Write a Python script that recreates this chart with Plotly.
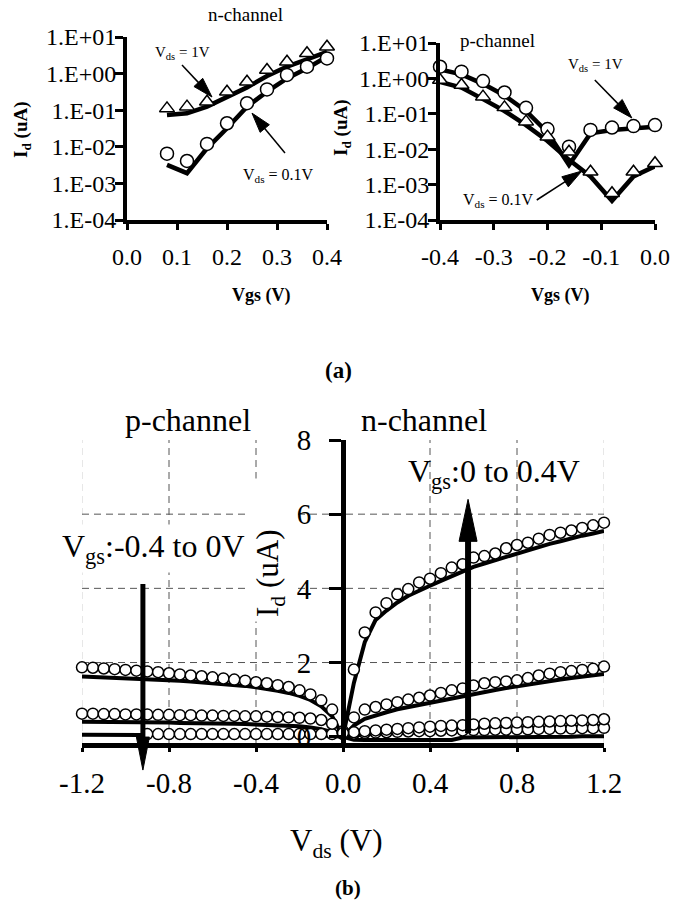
import numpy as np
import plotly.graph_objects as go

W, H = 685, 903
FONT = "Liberation Serif"

# ---------------- (a) left: n-channel transfer curves ----------------
vgs_n = [0.08, 0.12, 0.16, 0.20, 0.24, 0.28, 0.32, 0.36, 0.40]
n_vds1_meas = [0.112, 0.125, 0.171, 0.32, 0.60, 1.25, 2.1, 3.6, 5.4]
n_vds1_sim = [0.074, 0.082, 0.125, 0.234, 0.42, 0.86, 1.55, 2.46, 3.9]
n_vds01_meas = [0.0065, 0.0041, 0.012, 0.044, 0.155, 0.37, 0.92, 1.55, 2.6]
n_vds01_sim = [0.0032, 0.0019, 0.0091, 0.032, 0.125, 0.32, 0.74, 1.4, 2.9]

# ---------------- (a) right: p-channel transfer curves ----------------
vgs_p = [-0.40, -0.36, -0.32, -0.28, -0.24, -0.20, -0.16, -0.12, -0.08, -0.04, 0.00]
p_vds1_meas = [2.14, 1.55, 0.84, 0.40, 0.148, 0.037, 0.0118, 0.035, 0.041, 0.045, 0.048]
p_vds1_sim = [1.8, 1.3, 0.7, 0.33, 0.12, 0.03, 0.0036, 0.028, 0.035, 0.04, 0.043]
p_vds01_meas = [0.90, 0.65, 0.305, 0.152, 0.060, 0.0226, 0.0085, 0.0023, 0.00057, 0.0023, 0.0040]
p_vds01_sim = [0.80, 0.55, 0.26, 0.12, 0.048, 0.017, 0.005, 0.0017, 0.00035, 0.0017, 0.0033]

log_ticks = [1e-4, 1e-3, 1e-2, 1e-1, 1e0, 1e1]
log_tick_text = ["1.E-04", "1.E-03", "1.E-02", "1.E-01", "1.E+00", "1.E+01"]
n_vgs_ticks = [0.0, 0.1, 0.2, 0.3, 0.4]
n_vgs_text = ["0.0", "0.1", "0.2", "0.3", "0.4"]
p_vgs_ticks = [-0.4, -0.3, -0.2, -0.1, 0.0]
p_vgs_text = ["-0.4", "-0.3", "-0.2", "-0.1", "0.0"]

# ---------------- (b) output curves ----------------
vds_n = [0.0, 0.05, 0.10, 0.15, 0.20, 0.25, 0.30, 0.35, 0.40, 0.45, 0.50, 0.55, 0.60,
         0.65, 0.70, 0.75, 0.80, 0.85, 0.90, 0.95, 1.00, 1.05, 1.10, 1.15, 1.20]
n_vg04_meas = [0.10, 1.81, 2.81, 3.35, 3.60, 3.84, 3.98, 4.16, 4.26, 4.41, 4.56, 4.65, 4.83,
               4.87, 4.94, 5.08, 5.17, 5.23, 5.34, 5.44, 5.50, 5.56, 5.63, 5.70, 5.77]
n_vg04_sim = [0.0, 1.45, 2.55, 3.15, 3.40, 3.62, 3.80, 3.95, 4.07, 4.20, 4.33, 4.45, 4.58,
              4.67, 4.76, 4.86, 4.95, 5.03, 5.12, 5.20, 5.27, 5.35, 5.42, 5.48, 5.55]
n_vg03_meas = [0.10, 0.52, 0.73, 0.80, 0.87, 0.93, 1.00, 1.05, 1.11, 1.18, 1.25, 1.30, 1.38,
               1.44, 1.47, 1.49, 1.52, 1.58, 1.65, 1.70, 1.74, 1.77, 1.80, 1.83, 1.89]
n_vg03_sim = [0.0, 0.30, 0.48, 0.58, 0.66, 0.74, 0.80, 0.86, 0.92, 0.98, 1.04, 1.10, 1.16,
              1.21, 1.26, 1.31, 1.36, 1.41, 1.46, 1.50, 1.54, 1.58, 1.62, 1.65, 1.69]
n_vg02_meas = [0.10, 0.12, 0.15, 0.17, 0.19, 0.21, 0.23, 0.25, 0.27, 0.29, 0.30, 0.31, 0.33,
               0.35, 0.36, 0.37, 0.38, 0.39, 0.40, 0.41, 0.42, 0.43, 0.44, 0.45, 0.47]
n_vg02_sim = [0.0, 0.04, 0.06, 0.08, 0.09, 0.10, 0.11, 0.12, 0.13, 0.14, 0.15, 0.16, 0.17,
              0.18, 0.19, 0.20, 0.21, 0.22, 0.23, 0.24, 0.25, 0.26, 0.27, 0.28, 0.29]
n_vg01_meas = [0.10, 0.08, 0.10, 0.11, 0.12, 0.13, 0.14, 0.15, 0.15, 0.16, 0.17, 0.17, 0.18,
               0.18, 0.19, 0.19, 0.20, 0.20, 0.21, 0.21, 0.22, 0.22, 0.23, 0.23, 0.24]
n_vg01_sim = [0.0, -0.08, -0.09, -0.09, -0.09, -0.09, -0.09, -0.09, -0.09, -0.09, -0.09, -0.02, -0.02,
              -0.02, -0.02, -0.01, -0.01, -0.01, 0.0, 0.0, 0.0, 0.0, 0.01, 0.01, 0.01]

vds_p = [-1.20, -1.15, -1.10, -1.05, -1.00, -0.95, -0.90, -0.85, -0.80, -0.75, -0.70, -0.65, -0.60,
         -0.55, -0.50, -0.45, -0.40, -0.35, -0.30, -0.25, -0.20, -0.15, -0.10, -0.05, 0.0]
p_vg04_meas = [1.87, 1.86, 1.84, 1.82, 1.80, 1.78, 1.76, 1.74, 1.71, 1.68, 1.65, 1.63, 1.60,
               1.57, 1.54, 1.51, 1.47, 1.44, 1.39, 1.34, 1.25, 1.14, 0.98, 0.73, 0.15]
p_vg04_sim = [1.62, 1.61, 1.60, 1.59, 1.58, 1.57, 1.56, 1.55, 1.53, 1.51, 1.49, 1.47, 1.45,
              1.42, 1.40, 1.37, 1.33, 1.29, 1.24, 1.18, 1.10, 0.99, 0.82, 0.55, 0.0]
p_vg03_meas = [0.62, 0.62, 0.61, 0.61, 0.60, 0.60, 0.60, 0.59, 0.59, 0.58, 0.58, 0.57, 0.57,
               0.56, 0.56, 0.55, 0.55, 0.54, 0.53, 0.52, 0.51, 0.49, 0.45, 0.35, 0.10]
p_vg03_sim = [0.40, 0.40, 0.40, 0.39, 0.39, 0.39, 0.38, 0.38, 0.38, 0.37, 0.37, 0.36, 0.36,
              0.35, 0.35, 0.34, 0.33, 0.32, 0.31, 0.30, 0.28, 0.25, 0.20, 0.12, 0.0]
vds_p_low = [-0.90, -0.85, -0.80, -0.75, -0.70, -0.65, -0.60, -0.55, -0.50, -0.45,
             -0.40, -0.35, -0.30, -0.25, -0.20, -0.15, -0.10, -0.05, 0.0]
p_vg02_meas = [0.07, 0.07, 0.07, 0.07, 0.07, 0.07, 0.07, 0.07, 0.07, 0.07,
               0.07, 0.07, 0.07, 0.07, 0.07, 0.07, 0.07, 0.07, 0.07]
p_vg02_sim = [0.05, 0.05, 0.05, 0.05, 0.05, 0.05, 0.05, 0.05, 0.05, 0.05, 0.05, 0.05, 0.05,
              0.05, 0.05, 0.05, 0.05, 0.05, 0.05, 0.05, 0.04, 0.04, 0.03, 0.02, 0.0]

vds_ticks = [-1.2, -0.8, -0.4, 0.0, 0.4, 0.8, 1.2]
vds_text = ["-1.2", "-0.8", "-0.4", "0.0", "0.4", "0.8", "1.2"]
id_ticks = [0, 2, 4, 6, 8]
id_text = ["0", "2", "4", "6", "8"]
grid_x = [-0.8, -0.4, 0.4, 0.8]
edge_x = [-1.2, 1.2]
grid_y = [2, 4, 6]

# ---------------- geometry ----------------
def px2dom(a, b, total, flip=False):
    if flip:
        return [1 - b / total, 1 - a / total]
    return [a / total, b / total]

dom = {
    "x1": px2dom(127, 327, W), "y1": px2dom(37, 220, H, True),
    "x2": px2dom(440, 655, W), "y2": px2dom(43, 220, H, True),
    "x3": px2dom(82, 604, W), "y3": px2dom(440, 743, H, True),
}
rng = {
    "x1": [0.0, 0.4], "y1": [-4, 1],
    "x2": [-0.4, 0.0], "y2": [-4, 1],
    "x3": [-1.2, 1.2], "y3": [-0.17, 8.0],
}

def to_paper(k, v, log=False):
    vv = np.log10(v) if log else v
    d, r = dom[k], rng[k]
    return d[0] + (vv - r[0]) / (r[1] - r[0]) * (d[1] - d[0])

fig = go.Figure()

LINE = dict(color="black", width=4.5)
def mk_circle(size):
    return dict(symbol="circle", size=size, color="white", line=dict(color="black", width=1.5))
def mk_tri(size):
    return dict(symbol="triangle-up", size=size, color="white", line=dict(color="black", width=1.5))

# top-left lines then markers
fig.add_trace(go.Scatter(x=vgs_n, y=n_vds1_sim, mode="lines", line=LINE, xaxis="x", yaxis="y"))
fig.add_trace(go.Scatter(x=vgs_n, y=n_vds01_sim, mode="lines", line=LINE, xaxis="x", yaxis="y"))
fig.add_trace(go.Scatter(x=vgs_n, y=n_vds1_meas, mode="markers", marker=mk_tri(13), xaxis="x", yaxis="y", cliponaxis=False))
fig.add_trace(go.Scatter(x=vgs_n, y=n_vds01_meas, mode="markers", marker=mk_circle(13), xaxis="x", yaxis="y", cliponaxis=False))

# top-right
fig.add_trace(go.Scatter(x=vgs_p, y=p_vds1_sim, mode="lines", line=LINE, xaxis="x2", yaxis="y2"))
fig.add_trace(go.Scatter(x=vgs_p, y=p_vds01_sim, mode="lines", line=LINE, xaxis="x2", yaxis="y2"))
fig.add_trace(go.Scatter(x=vgs_p, y=p_vds1_meas, mode="markers", marker=mk_circle(13), xaxis="x2", yaxis="y2", cliponaxis=False))
fig.add_trace(go.Scatter(x=vgs_p, y=p_vds01_meas, mode="markers", marker=mk_tri(13), xaxis="x2", yaxis="y2", cliponaxis=False))

# bottom
LB = dict(color="black", width=4)
for xs, ys in [(vds_n, n_vg04_sim), (vds_n, n_vg03_sim), (vds_n, n_vg02_sim), (vds_n, n_vg01_sim),
               (vds_p, p_vg04_sim), (vds_p, p_vg03_sim), (vds_p, p_vg02_sim)]:
    fig.add_trace(go.Scatter(x=xs, y=ys, mode="lines", line=LB, xaxis="x3", yaxis="y3"))
for xs, ys in [(vds_p_low, p_vg02_meas), (vds_n, n_vg01_meas), (vds_n, n_vg02_meas),
               (vds_p, p_vg03_meas), (vds_n, n_vg03_meas), (vds_p, p_vg04_meas), (vds_n, n_vg04_meas)]:
    fig.add_trace(go.Scatter(x=xs, y=ys, mode="markers", marker=mk_circle(11), xaxis="x3", yaxis="y3", cliponaxis=False))

tickfont_top = dict(family=FONT, size=24, color="black")
tickfont_bot = dict(family=FONT, size=29, color="black")

common_top = dict(showgrid=False, zeroline=False, showline=True, linecolor="black", linewidth=4,
                  ticks="outside", tickcolor="black", tickwidth=3, tickfont=tickfont_top, automargin=False)

fig.update_layout(
    template="none",
    width=W, height=H, margin=dict(l=0, r=0, t=0, b=0, pad=0), autosize=False,
    paper_bgcolor="white", plot_bgcolor="white", showlegend=False, hovermode=False,
    xaxis=dict(domain=dom["x1"], range=rng["x1"], anchor="y", tickvals=n_vgs_ticks, ticktext=n_vgs_text,
               ticklen=6, ticklabelstandoff=6, **common_top),
    yaxis=dict(domain=dom["y1"], type="log", range=rng["y1"], anchor="x", tickvals=log_ticks,
               ticktext=log_tick_text, ticklen=8, ticklabelstandoff=-6, **common_top),
    xaxis2=dict(domain=dom["x2"], range=rng["x2"], anchor="y2", tickvals=p_vgs_ticks, ticktext=p_vgs_text,
                ticklen=6, ticklabelstandoff=6, **common_top),
    yaxis2=dict(domain=dom["y2"], type="log", range=rng["y2"], anchor="x2", tickvals=log_ticks,
                ticktext=log_tick_text, ticklen=8, ticklabelstandoff=-6, **common_top),
    xaxis3=dict(domain=dom["x3"], range=rng["x3"], anchor="y3", tickvals=vds_ticks, ticktext=vds_text,
                showgrid=False, zeroline=False, showline=True, linecolor="black", linewidth=5,
                ticks="outside", ticklen=4, tickwidth=3, tickcolor="black", tickfont=tickfont_bot,
                ticklabelstandoff=6, automargin=False),
    yaxis3=dict(domain=dom["y3"], range=rng["y3"], anchor="free",
                position=to_paper("x3", 0.0), tickvals=id_ticks, ticktext=id_text,
                showgrid=False, zeroline=False, showline=True, linecolor="black", linewidth=5,
                ticks="outside", ticklen=12, tickwidth=3, tickcolor="black", tickfont=tickfont_bot,
                ticklabelstandoff=12, automargin=False),
)

# gridlines for (b)
GRID = dict(color="#555555", width=1, dash="7px,5px")
for gx in grid_x:
    fig.add_shape(type="line", xref="x3", yref="y3 domain", x0=gx, x1=gx, y0=0, y1=1, line=GRID, layer="below")
for gx in edge_x:
    fig.add_shape(type="line", xref="x3", yref="y3 domain", x0=gx, x1=gx, y0=0, y1=1,
                  line=dict(color="#cfcfcf", width=1, dash="7px,5px"), layer="below")
for gy in grid_y:
    fig.add_shape(type="line", xref="x3 domain", yref="y3", x0=0, x1=1, y0=gy, y1=gy, line=GRID, layer="below")

# arrows
def add_arrow(tail, tip, lw, hl, hw):
    tx, ty = tail[0] * W, (1 - tail[1]) * H
    hx, hy = tip[0] * W, (1 - tip[1]) * H
    dx, dy = hx - tx, hy - ty
    L = np.hypot(dx, dy)
    ux, uy = dx / L, dy / L
    bx, by = hx - ux * hl, hy - uy * hl
    nx, ny = -uy, ux
    c1 = (bx + nx * hw / 2, by + ny * hw / 2)
    c2 = (bx - nx * hw / 2, by - ny * hw / 2)
    P = lambda X, Y: (X / W, 1 - Y / H)
    a = P(tx, ty)
    b = P(bx + ux * 2, by + uy * 2)
    fig.add_shape(type="line", xref="paper", yref="paper", x0=a[0], y0=a[1], x1=b[0], y1=b[1],
                  line=dict(color="black", width=lw), layer="above")
    pts = [P(hx, hy), P(*c1), P(*c2)]
    path = "M {:.5f} {:.5f} L {:.5f} {:.5f} L {:.5f} {:.5f} Z".format(*pts[0], *pts[1], *pts[2])
    fig.add_shape(type="path", path=path, xref="paper", yref="paper", fillcolor="black",
                  line=dict(color="black", width=1), layer="above")

def pt(kx, ky, x, y, log=False):
    return (to_paper(kx, x), to_paper(ky, y, log))

# top-left arrows (data coords)
add_arrow(pt("x1", "y1", 0.11, 10**0.235, True), pt("x1", "y1", 0.17, 10**-0.64, True), 1.5, 20, 12)
add_arrow(pt("x1", "y1", 0.316, 10**-2.17, True), pt("x1", "y1", 0.25, 10**-1.08, True), 1.5, 20, 12)
# top-right arrows
add_arrow(pt("x2", "y2", -0.112, 10**-0.045, True), pt("x2", "y2", -0.043, 10**-1.119, True), 1.5, 20, 12)
add_arrow(pt("x2", "y2", -0.22, 10**-3.435, True), pt("x2", "y2", -0.136, 10**-2.616, True), 1.5, 20, 12)
# bottom arrows
add_arrow(pt("x3", "y3", 0.575, 0.09), pt("x3", "y3", 0.575, 6.4), 6, 42, 18)
add_arrow(pt("x3", "y3", -0.92, 4.12), pt("x3", "y3", -0.92, -0.9), 5, 33, 13)

def ann(text, xp, yp, size, bold=False, angle=0, bg=None, pad=1):
    t = "<b>" + text + "</b>" if bold else text
    d = dict(text=t, x=xp / W, y=1 - yp / H, xref="paper", yref="paper", showarrow=False,
             xanchor="center", yanchor="middle", textangle=angle,
             font=dict(family=FONT, size=size, color="black"), borderpad=pad)
    if bg:
        d["bgcolor"] = bg
    fig.add_annotation(**d)

# top labels
ann("n-channel", 245, 15, 19)
ann("p-channel", 497, 40, 19)
ann("V<sub>ds</sub> = 1V", 183, 53, 15)
ann("V<sub>ds</sub> = 0.1V", 278, 175, 16)
ann("V<sub>ds</sub> = 1V", 595, 65, 15)
ann("V<sub>ds</sub> = 0.1V", 498, 200, 16)
ann("I<sub>d</sub> (uA)", 22, 130, 19, bold=True, angle=-90)
ann("I<sub>d</sub> (uA)", 342, 128, 19, bold=True, angle=-90)
ann("Vgs (V)", 261, 295, 18, bold=True)
ann("Vgs (V)", 560, 295, 18, bold=True)
ann("(a)", 338, 370, 23, bold=True)

# bottom labels
ann("p-channel", 188, 420, 32)
ann("n-channel", 424, 420, 32)
ann("V<sub>gs</sub>:-0.4 to 0V", 153, 548, 32, bg="white", pad=3)
ann("V<sub>gs</sub>:0 to 0.4V", 494, 473, 32)
ann("I<sub>d</sub> (uA)" + "\u00a0" * 6, 270, 550, 31, angle=-90, bg="white", pad=4)
ann("V<sub>ds</sub> (V)", 336, 843, 31)
ann("(b)", 348, 888, 21, bold=True)

fig.write_html("out.html", config={"displayModeBar": False, "staticPlot": True},
               post_script="document.body.style.margin='0px';document.body.style.padding='0px';")
